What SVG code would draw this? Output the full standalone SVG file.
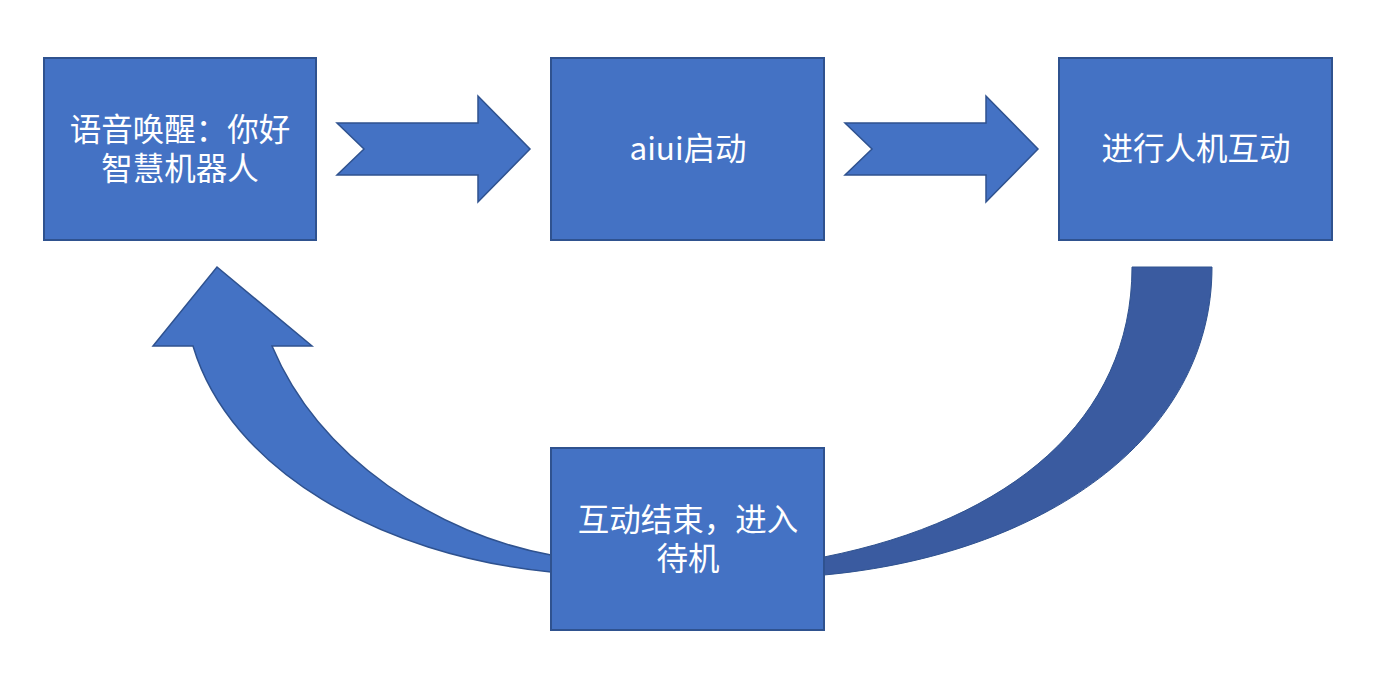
<svg xmlns="http://www.w3.org/2000/svg" width="1393" height="676" viewBox="0 0 1393 676">
<style>
.box{fill:#4472C4;stroke:#2F528F;stroke-width:2}
.arr{fill:#4472C4;stroke:#2F528F;stroke-width:1.5;stroke-linejoin:miter}
.dark{fill:#3A5BA0;stroke:#2F528F;stroke-width:1}
.t{fill:#FFFFFF;font-family:"Microsoft YaHei","Noto Sans CJK SC","Noto Sans",sans-serif;font-size:31.5px;text-anchor:middle}
</style>
<rect width="1393" height="676" fill="#FFFFFF"/>
<g id="connectors">
<path class="arr" d="M337,123 L478,123 L478,96 L530,149 L478,202 L478,175 L337,175 L364,149 Z"/>
<path class="arr" d="M845,123 L986,123 L986,96 L1038,149 L986,202 L986,175 L845,175 L872,149 Z"/>
<path class="arr" d="M551,572 C380,555 230,470 193,346 L153,346 L217,267 L312,346 L272,346 C320,460 440,535 551,555 Z"/>
<path class="dark" d="M1132,267 L1212,267 C1212,440 1040,555 824,575 L824,557 C1010,520 1132,420 1132,267 Z"/>
</g>
<g id="node1">
<rect class="box" x="44" y="58" width="272" height="182"/>
<text class="t" x="180" y="141">语音唤醒：你好</text>
<text class="t" x="180" y="180">智慧机器人</text>
</g>
<g id="node2">
<rect class="box" x="551" y="58" width="273" height="182"/>
<text class="t" x="688" y="160">aiui启动</text>
</g>
<g id="node3">
<rect class="box" x="1059" y="58" width="273" height="182"/>
<text class="t" x="1196" y="160">进行人机互动</text>
</g>
<g id="node4">
<rect class="box" x="551" y="448" width="273" height="182"/>
<text class="t" x="688" y="531">互动结束，进入</text>
<text class="t" x="688" y="570">待机</text>
</g>
</svg>
